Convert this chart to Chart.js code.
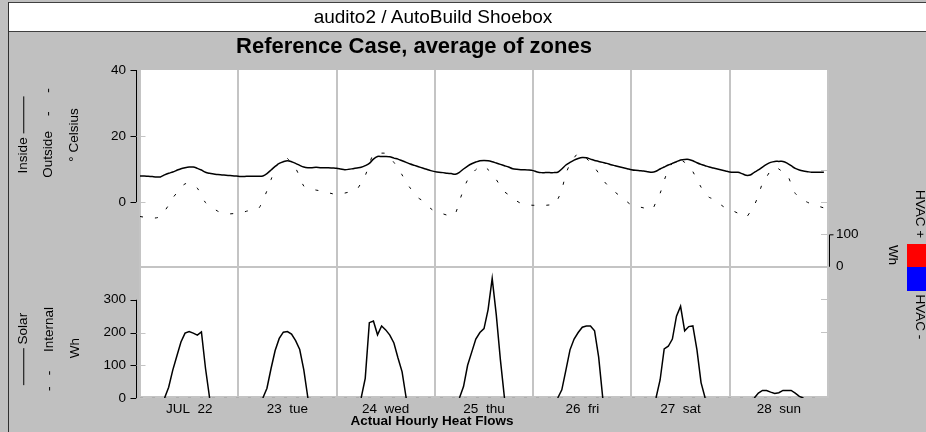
<!DOCTYPE html>
<html>
<head>
<meta charset="utf-8">
<script src="https://cdn.jsdelivr.net/npm/chart.js"></script>
<style>
  body { margin: 0; width: 926px; height: 432px; background: #c0c0c0; overflow: hidden; position: relative;
         font-family: "Liberation Sans", Arial, sans-serif; color: #000; }
  #banner { position: absolute; left: 8px; top: 2px; width: 918px; height: 28px; background: #fff;
            border-top: 1px solid #404040; border-bottom: 1px solid #404040; }
  #frame { position: absolute; left: 8px; top: 2px; width: 1px; height: 430px; background: #303030; }
  #chart { position: absolute; left: 0; top: 0; }
  .t { position: absolute; transform: translate(-50%, -50%); white-space: pre; line-height: 1; font-size: 13.5px; }
  .up { transform: translate(-50%, -50%) rotate(-90deg); }
  .down { transform: translate(-50%, -50%) rotate(90deg); }
  .bar { display: inline-block; border-top: 1px solid #000; vertical-align: middle; }
  .box { position: absolute; }
</style>
</head>
<body>
<div id="banner"></div>
<div id="frame"></div>
<canvas id="chart" width="926" height="432"></canvas>

<div class="t" style="left:433px; top:16px; font-size:19px;">audito2 / AutoBuild Shoebox</div>
<div class="t" style="left:414px; top:46px; font-size:22px; font-weight:bold;">Reference Case, average of zones</div>
<div class="t" style="left:432px; top:421px; font-weight:bold;">Actual Hourly Heat Flows</div>

<div class="t up" style="left:23px; top:135px;">Inside <span class="bar" style="width:37px"></span></div>
<div class="t up" style="left:48px; top:133px;">Outside    -     -</div>
<div class="t up" style="left:74px; top:135px;">° Celsius</div>

<div class="t up" style="left:23px; top:349px;"><span class="bar" style="width:37px"></span> Solar</div>
<div class="t up" style="left:49px; top:349px;">-   -     Internal</div>
<div class="t up" style="left:75px; top:348px;">Wh</div>

<div class="t down" style="left:920px; top:214px;">HVAC +</div>
<div class="t down" style="left:893px; top:255px;">Wh</div>
<div class="box" style="left:907px; top:244px; width:19px; height:23px; background:#ff0000;"></div>
<div class="box" style="left:907px; top:267px; width:19px; height:24px; background:#0000ff;"></div>
<div class="t down" style="left:920px; top:317px;">HVAC -</div>

<script>
// day labels, placed at the middle of each day (hours)
const dayLabels = ['JUL  22', '23  tue', '24  wed', '25  thu', '26  fri', '27  sat', '28  sun'];
const dayTicks = [12, 36, 60, 84, 108, 132, 156];

const tempTicks = [0, 20, 40];
const solarTicks = [0, 100, 200, 300];
const hvacTicks = [-200, -100, 0, 100, 200, 300];

// hourly inside air temperature, one row per day
const inside = [
  7.9, 7.9, 7.8, 7.7, 7.6, 7.6, 8.2, 8.7, 9.1, 9.6, 10.1, 10.4, 10.6, 10.6, 10.2, 9.7, 9.0, 8.7, 8.5, 8.3, 8.2, 8.1, 8.0, 7.9,
  7.8, 7.7, 7.8, 7.8, 7.8, 7.8, 7.9, 8.6, 9.7, 10.8, 11.7, 12.2, 12.5, 12.2, 11.7, 11.1, 10.6, 10.4, 10.4, 10.5, 10.4, 10.4, 10.4, 10.3,
  10.2, 10.0, 9.8, 9.9, 10.1, 10.3, 10.5, 11.0, 11.7, 13.0, 13.8, 13.8, 13.8, 13.7, 13.3, 13.0, 12.5, 12.0, 11.5, 11.1, 10.7, 10.3, 9.9, 9.5,
  9.2, 9.0, 8.9, 8.7, 8.6, 8.4, 9.0, 10.0, 10.9, 11.6, 12.1, 12.5, 12.6, 12.5, 12.2, 11.8, 11.4, 11.0, 10.6, 10.1, 9.9, 9.8, 9.8, 9.7,
  9.5, 9.1, 8.9, 8.9, 8.9, 8.9, 9.0, 10.0, 11.2, 12.0, 12.7, 13.2, 13.5, 13.4, 13.0, 12.6, 12.3, 12.0, 11.7, 11.3, 11.0, 10.7, 10.4, 10.1,
  9.8, 9.6, 9.5, 9.4, 9.2, 9.0, 9.3, 10.0, 10.6, 11.2, 11.7, 12.2, 12.7, 12.9, 12.9, 12.5, 11.9, 11.4, 11.0, 10.6, 10.3, 10.0, 9.7, 9.4,
  9.1, 9.0, 9.0, 8.6, 8.1, 8.2, 9.0, 9.7, 10.6, 11.4, 12.0, 12.3, 12.3, 12.3, 11.8, 11.0, 10.2, 9.7, 9.4, 9.2, 9.0, 9.0, 9.0, 9.0
];

// hourly outside air temperature
const outside = [
  -4.4, -4.6, -4.8, -4.9, -4.8, -4.4, -2.8, -0.9, 1.2, 2.8, 4.4, 5.5, 5.6, 5.2, 4.2, 2.0, -0.2, -1.2, -2.0, -2.8, -3.3, -3.5, -3.6, -3.5,
  -3.5, -3.2, -2.8, -2.5, -2.2, -1.9, 0.5, 3.4, 6.8, 10.0, 12.2, 13.4, 13.2, 11.5, 10.2, 7.6, 4.8, 4.2, 3.9, 3.6, 3.4, 3.1, 2.8, 2.5,
  2.2, 2.4, 2.7, 3.0, 3.4, 3.9, 5.8, 8.0, 11.5, 14.5, 14.7, 14.8, 14.7, 13.5, 12.0, 10.3, 8.2, 6.0, 4.2, 2.6, 1.2, 0.4, -0.8, -2.0,
  -2.8, -3.2, -3.6, -4.0, -4.3, -3.5, 0.2, 3.8, 6.7, 8.4, 9.8, 10.8, 10.8, 9.8, 8.6, 6.8, 4.8, 3.1, 2.2, 1.3, 0.3, -0.4, -0.7, -0.9,
  -1.0, -1.0, -1.0, -1.0, -0.9, -0.9, 0.8, 3.8, 8.5, 11.5, 13.4, 14.7, 14.2, 13.2, 12.0, 10.5, 8.7, 6.8, 5.3, 4.1, 3.0, 2.0, 1.0, 0.0,
  -0.9, -1.2, -1.5, -1.8, -2.1, -2.4, 0.0, 2.6, 6.5, 9.8, 11.8, 13.0, 12.8, 12.0, 11.0, 9.2, 6.8, 4.5, 2.5, 1.4, 0.9, -0.1, -1.0, -1.8,
  -2.2, -2.8, -3.4, -4.0, -4.6, -3.0, -1.0, 2.0, 5.7, 7.6, 9.5, 10.5, 10.0, 9.0, 8.3, 5.5, 2.6, 1.6, 0.6, -0.1, -0.6, -1.0, -1.4, -1.8
];

// hourly solar gains (Wh), null = night
const solar = [
  null, null, null, null, null, null, 0, 33, 85, 128, 171, 198, 203, 198, 192, 202, 90, 0, null, null, null, null, null, null,
  null, null, null, null, null, null, 0, 30, 90, 145, 182, 201, 203, 195, 175, 148, 86, 0, null, null, null, null, null, null,
  null, null, null, null, null, null, 0, 60, 230, 235, 193, 220, 208, 192, 168, 122, 80, 0, null, null, null, null, null, null,
  null, null, null, null, null, null, 0, 35, 100, 140, 180, 200, 212, 270, 365, 254, 117, 0, null, null, null, null, null, null,
  null, null, null, null, null, null, 0, 25, 85, 147, 180, 200, 216, 220, 220, 205, 125, 0, null, null, null, null, null, null,
  null, null, null, null, null, null, 0, 55, 150, 158, 180, 250, 280, 205, 218, 220, 147, 47, 0, null, null, null, null, null,
  null, null, null, null, null, null, 0, 15, 23, 23, 18, 14, 16, 23, 23, 23, 15, 5, 0, null, null, null, null, null
];

// hourly internal gains (Wh)
const internal = [
  0, 0, 0, 0, 0, 0, 0, 0, 0, 0, 0, 0, 0, 0, 0, 0, 0, 0, 0, 0, 0, 0, 0, 0,
  0, 0, 0, 0, 0, 0, 0, 0, 0, 0, 0, 0, 0, 0, 0, 0, 0, 0, 0, 0, 0, 0, 0, 0,
  0, 0, 0, 0, 0, 0, 0, 0, 0, 0, 0, 0, 0, 0, 0, 0, 0, 0, 0, 0, 0, 0, 0, 0,
  0, 0, 0, 0, 0, 0, 0, 0, 0, 0, 0, 0, 0, 0, 0, 0, 0, 0, 0, 0, 0, 0, 0, 0,
  0, 0, 0, 0, 0, 0, 0, 0, 0, 0, 0, 0, 0, 0, 0, 0, 0, 0, 0, 0, 0, 0, 0, 0,
  0, 0, 0, 0, 0, 0, 0, 0, 0, 0, 0, 0, 0, 0, 0, 0, 0, 0, 0, 0, 0, 0, 0, 0,
  0, 0, 0, 0, 0, 0, 0, 0, 0, 0, 0, 0, 0, 0, 0, 0, 0, 0, 0, 0, 0, 0, 0, 0
];

const hours = inside.map((v, i) => i);
const font = { family: '"Liberation Sans", Arial, sans-serif', size: 13.5 };

const fixTicks = list => scale => { scale.ticks = list.map(v => ({ value: v })); };

// white panels, grey separators and the short black axis lines
const panels = {
  id: 'panels',
  beforeDraw(chart) {
    const { ctx, chartArea: a } = chart;
    ctx.save();
    ctx.fillStyle = '#fff';
    ctx.fillRect(a.left, a.top, a.right - a.left, a.bottom - a.top);
    ctx.restore();
  },
  beforeDatasetsDraw(chart) {
    const { ctx, chartArea: a, scales } = chart;
    ctx.save();
    ctx.strokeStyle = '#c4c4c4';
    ctx.lineWidth = 2;
    ctx.beginPath();
    ctx.moveTo(a.left, scales.yT.bottom);
    ctx.lineTo(a.right, scales.yT.bottom);
    ctx.moveTo(a.left, a.bottom - 1);
    ctx.lineTo(a.right, a.bottom - 1);
    ctx.stroke();
    ctx.restore();
  },
  afterDraw(chart) {
    const { ctx, chartArea: a, scales } = chart;
    ctx.save();
    ctx.lineWidth = 1;
    const ax = a.left - 3.5;
    ['yT', 'yS'].forEach(id => {
      const s = scales[id];
      const vals = s.ticks.map(t => t.value);
      const yTop = s.getPixelForValue(vals[vals.length - 1]);
      const yBot = s.getPixelForValue(vals[0]);
      ctx.strokeStyle = '#000';
      ctx.beginPath();
      ctx.moveTo(ax, yTop);
      ctx.lineTo(ax, yBot);
      vals.forEach(v => {
        const y = Math.round(s.getPixelForValue(v)) + 0.5;
        ctx.moveTo(ax - 6, y);
        ctx.lineTo(ax, y);
      });
      ctx.stroke();
      ctx.strokeStyle = '#c4c4c4';
      ctx.beginPath();
      vals.slice(0, -1).forEach(v => {
        const y = Math.round(s.getPixelForValue(v)) + 0.5;
        ctx.moveTo(ax, y);
        ctx.lineTo(ax + 9, y);
      });
      ctx.stroke();
    });

    const h = scales.yH;
    ctx.strokeStyle = '#c4c4c4';
    ctx.beginPath();
    h.ticks.forEach(t => {
      const y = Math.round(h.getPixelForValue(t.value)) + 0.5;
      ctx.moveTo(a.right - 7, y);
      ctx.lineTo(a.right, y);
    });
    ctx.stroke();
    const rx = a.right + 1.5;
    ctx.strokeStyle = '#000';
    ctx.beginPath();
    ctx.moveTo(rx + 4, h.getPixelForValue(100) + 0.5);
    ctx.lineTo(rx, h.getPixelForValue(100) + 0.5);
    ctx.lineTo(rx, h.getPixelForValue(0));
    ctx.stroke();
    ctx.restore();
  }
};

new Chart(document.getElementById('chart'), {
  type: 'line',
  data: {
    labels: hours,
    datasets: [
      { label: 'Inside', data: inside, yAxisID: 'yT', borderColor: '#000', borderWidth: 1.5, pointRadius: 0, tension: 0.3 },
      { label: 'Outside', data: outside, yAxisID: 'yT', borderColor: '#000', borderWidth: 1, borderDash: [3, 12], pointRadius: 0, tension: 0.3 },
      { label: 'Solar', data: solar, yAxisID: 'yS', borderColor: '#000', borderWidth: 1.5, pointRadius: 0, tension: 0 },
      { label: 'Internal', data: internal, yAxisID: 'yS', borderColor: '#999', borderWidth: 1, borderDash: [3, 9], pointRadius: 0 }
    ]
  },
  options: {
    responsive: false,
    animation: false,
    devicePixelRatio: 1,
    layout: { padding: { top: 70, left: 100, right: 58, bottom: 0 } },
    plugins: { legend: { display: false }, tooltip: { enabled: false } },
    scales: {
      x: {
        type: 'linear', min: 0, max: 168,
        afterBuildTicks: fixTicks(dayTicks),
        afterFit: s => { s.height = 34; },
        ticks: { callback: (v, i) => dayLabels[i], autoSkip: false, maxRotation: 0, padding: 3, color: '#000', font },
        grid: { offset: true, color: '#c4c4c4', lineWidth: 2, drawTicks: false },
        border: { display: false }
      },
      yS: {
        position: 'left', stack: 'left', stackWeight: 131, min: 0, max: 400,
        afterBuildTicks: fixTicks(solarTicks),
        afterFit: s => { s.width = 40; },
        ticks: { padding: 14, color: '#000', font },
        grid: { display: false, drawTicks: false },
        border: { display: false }
      },
      yT: {
        position: 'left', stack: 'left', stackWeight: 197, min: -19.7, max: 40,
        afterBuildTicks: fixTicks(tempTicks),
        afterFit: s => { s.width = 40; },
        ticks: { padding: 14, color: '#000', font },
        grid: { display: false, drawTicks: false },
        border: { display: false }
      },
      yH: {
        position: 'right', min: -405, max: 607,
        afterBuildTicks: fixTicks(hvacTicks),
        afterFit: s => { s.width = 40; },
        ticks: { padding: 8, color: '#000', font, callback: v => (v === 0 || v === 100 ? String(v) : '') },
        grid: { display: false, drawTicks: false },
        border: { display: false }
      }
    }
  },
  plugins: [panels]
});
</script>
</body>
</html>
